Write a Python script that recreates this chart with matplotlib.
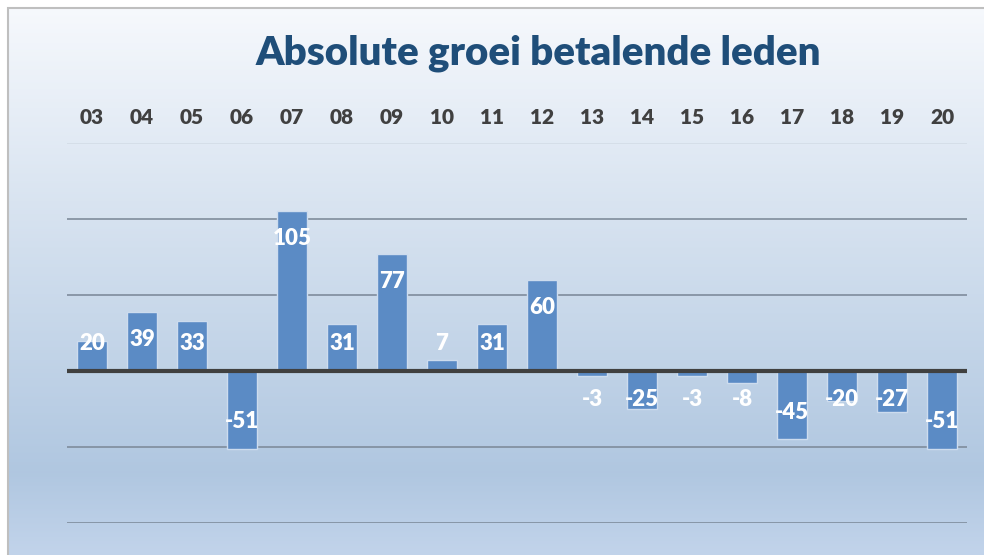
import numpy as np
import matplotlib
matplotlib.use('Agg')
import matplotlib.pyplot as plt
from matplotlib.patches import Rectangle

# data
years = ['03', '04', '05', '06', '07', '08', '09', '10', '11',
         '12', '13', '14', '15', '16', '17', '18', '19', '20']
growth = [20, 39, 33, -51, 105, 31, 77, 7, 31,
          60, -3, -25, -3, -8, -45, -20, -27, -51]
grid_vals = [150, 100, 50, -50, -100]

plt.rcParams['font.family'] = ['Lato', 'DejaVu Sans']

W, H = 984, 555
fig = plt.figure(figsize=(W / 100, H / 100), dpi=100)
fig.patch.set_facecolor('white')

# gradient background inside the frame
bg = fig.add_axes([8 / W, 0, 1 - 8 / W, 1 - 8 / H], zorder=0)
top = np.array([0.965, 0.975, 0.99])
mid = np.array([0.69, 0.78, 0.88])
bot = np.array([0.76, 0.83, 0.92])
t = np.linspace(0, 1, 300)[:, None]
grad = np.where(t < 0.85, top + (mid - top) * (t / 0.85),
                mid + (bot - mid) * ((t - 0.85) / 0.15))
bg.imshow(grad[:, None, :].repeat(2, axis=1), aspect='auto', extent=[0, 1, 0, 1])
bg.set_axis_off()
fig.add_artist(Rectangle((8 / W, -0.01), 1, 1 - 8 / H + 0.01, transform=fig.transFigure,
                         fill=False, edgecolor='#bfbfbf', lw=1.5, zorder=5))

ax = fig.add_axes([67 / W, 32 / H, 900 / W, 380 / H], zorder=1)
ax.patch.set_alpha(0)
x = np.arange(len(years))
ax.set_xlim(-0.5, len(years) - 0.5)
ax.set_ylim(-100, 150)

for g in grid_vals:
    c = '#d3dce6' if g == 150 else '#7f8c9c'
    ax.axhline(g, color=c, lw=1.2, zorder=1)

ax.bar(x, growth, width=0.6, color='#5b8bc5', edgecolor='#cddcee', lw=1, zorder=2)
ax.axhline(0, color='#404040', lw=3, zorder=3)

for xi, v in zip(x, growth):
    if v >= 0:
        ly = max(v - 18, 18)
    else:
        ly = min(v + 18, -19)
    ax.text(xi, ly, str(v), ha='center', va='center', color='white',
            fontsize=16, fontweight='heavy', zorder=4)

# category labels above the plot
for xi, lab in zip(x, years):
    ax.text(xi, 1.0 + 25 / 380, lab, transform=ax.get_xaxis_transform(), ha='center',
            va='center', color='#404040', fontsize=15, fontweight='heavy')

ax.set_axis_off()

fig.text(538 / W, 1 - 53 / H, 'Absolute groei betalende leden', ha='center', va='center',
         color='#1f4e79', fontsize=29, fontweight='heavy')

fig.savefig('out.png', dpi=100)
